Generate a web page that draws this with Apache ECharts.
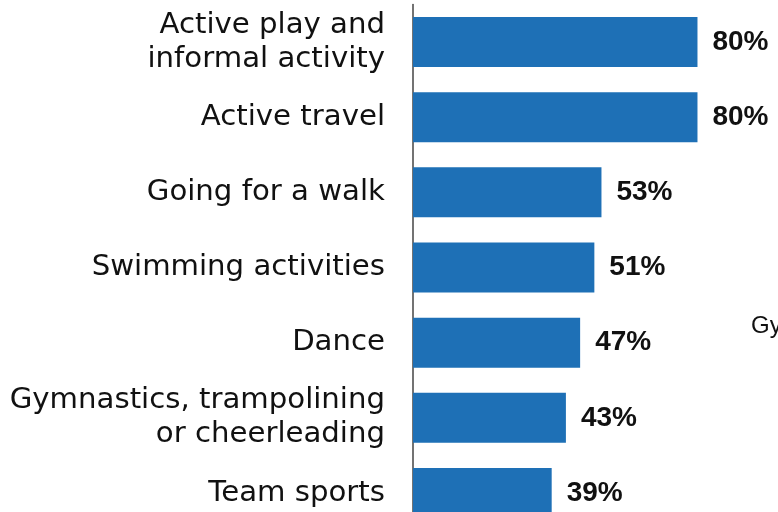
<!DOCTYPE html>
<html>
<head>
<meta charset="utf-8">
<script src="https://cdn.jsdelivr.net/npm/echarts@6/dist/echarts.min.js"></script>
<style>
html,body{margin:0;padding:0;background:#fff;}
#chart{width:778px;height:512px;}
</style>
</head>
<body>
<div id="chart"></div>
<script>
const categories = [
  "Active play and\ninformal activity",
  "Active travel",
  "Going for a walk",
  "Swimming activities",
  "Dance",
  "Gymnastics, trampolining\nor cheerleading",
  "Team sports"
];
const values = [80, 80, 53, 51, 47, 43, 39];
const strayText = "Gy";

const chart = echarts.init(document.getElementById('chart'), null, {renderer: 'canvas'});
chart.setOption({
  animation: false,
  backgroundColor: '#ffffff',
  grid: {left: 413, top: 4.5, width: 355.6, height: 526, containLabel: false, outerBoundsMode: 'none'},
  xAxis: {
    type: 'value', min: 0, max: 100, show: false
  },
  yAxis: {
    type: 'category',
    data: categories,
    inverse: true,
    axisLine: {show: true, lineStyle: {color: '#444', width: 1.5}},
    axisTick: {show: false},
    axisLabel: {
      margin: 28,
      color: '#111',
      fontFamily: 'DejaVu Sans',
      fontSize: 29.2,
      lineHeight: 34,
      align: 'right'
    }
  },
  series: [{
    type: 'bar',
    data: values,
    barCategoryGap: '33.5%',
    itemStyle: {color: '#1e70b6'},
    label: {
      show: true,
      position: 'right',
      distance: 15,
      formatter: p => p.value + '%',
      color: '#111',
      fontFamily: 'Liberation Sans',
      fontWeight: 'bold',
      fontSize: 28
    }
  }],
  graphic: [{
    type: 'text',
    left: 751,
    top: 314,
    style: {text: strayText, fill: '#111', font: '24px "Liberation Sans"'}
  }]
});
</script>
</body>
</html>
